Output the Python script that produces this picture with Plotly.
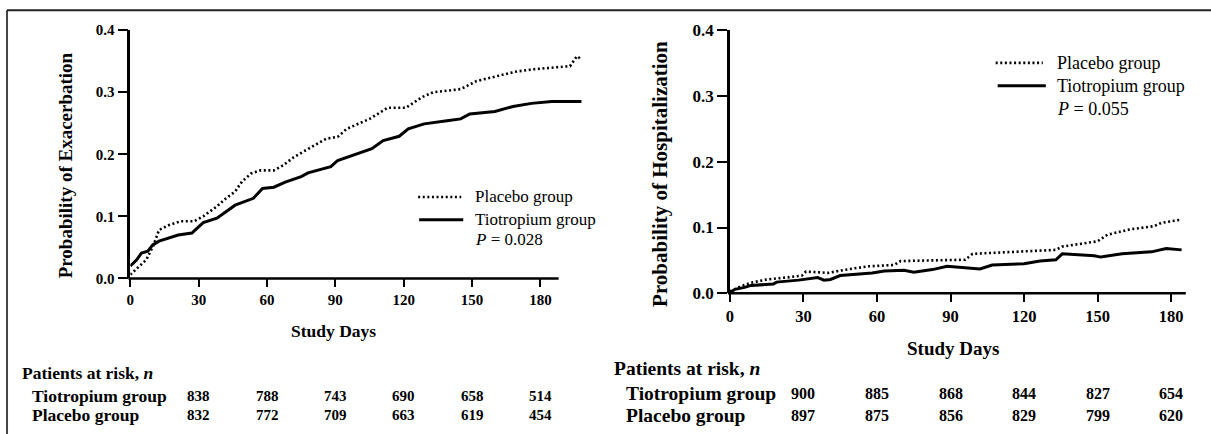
import plotly.graph_objects as go

# Figure size and the measured placement of the figure inside the photographed page
FW, FH = 1211, 434
SX, BX = 0.994, 4.0     # picture x = SX * figure x + BX
SY, BY = 0.963, 7.7     # picture y = SY * figure y + BY
SERIF = "Liberation Serif"

# ---------------- data ----------------
tick_days = [0, 30, 60, 90, 120, 150, 180]
prob_ticks = [0.0, 0.1, 0.2, 0.3, 0.4]

# Left panel: probability of exacerbation
ex_tio_days = [0, 2.8, 4.9, 7.7, 9.8, 12.6, 21, 27, 32, 38, 46, 54, 58, 63, 68, 72, 75,
               78, 88, 91, 97, 106, 111, 118, 122, 129, 139, 145, 149, 160, 168, 176, 185, 198]
ex_tio_prob = [0.020, 0.030, 0.041, 0.044, 0.054, 0.060, 0.070, 0.073, 0.090, 0.097, 0.118,
               0.129, 0.145, 0.147, 0.155, 0.160, 0.164, 0.170, 0.180, 0.190, 0.198, 0.209,
               0.222, 0.229, 0.241, 0.249, 0.254, 0.257, 0.265, 0.269, 0.277, 0.282, 0.285, 0.285]
ex_pla_days = [0, 4, 7, 10, 12.6, 17, 22, 28, 32, 38, 42, 46, 49, 53, 57, 63, 67, 72, 76,
               80, 86, 91, 95, 105, 113, 121, 128, 133, 145, 152, 161, 169, 177, 193, 196, 198]
ex_pla_prob = [0.006, 0.020, 0.030, 0.052, 0.078, 0.086, 0.092, 0.092, 0.100, 0.116, 0.129,
               0.140, 0.156, 0.169, 0.174, 0.174, 0.182, 0.196, 0.204, 0.212, 0.225, 0.228,
               0.241, 0.257, 0.275, 0.275, 0.292, 0.300, 0.305, 0.318, 0.326, 0.333, 0.337,
               0.342, 0.358, 0.353]

# Right panel: probability of hospitalization
ho_tio_days = [0, 2, 6, 8.6, 17.7, 19, 28, 33, 35.8, 38.4, 41, 45, 53, 58, 63, 71, 75, 82.6,
               88.6, 102, 107, 114, 120, 126.5, 133, 135.6, 148.7, 151.3, 160, 172, 178, 184.3]
ho_tio_prob = [0.001, 0.006, 0.009, 0.012, 0.014, 0.017, 0.020, 0.022, 0.024, 0.020, 0.021,
               0.027, 0.029, 0.031, 0.034, 0.035, 0.032, 0.036, 0.041, 0.037, 0.043, 0.044,
               0.045, 0.049, 0.051, 0.060, 0.057, 0.055, 0.060, 0.063, 0.068, 0.066]
ho_pla_days = [0, 4.7, 8.6, 15, 23, 29.4, 31, 36, 40, 49, 56.6, 67, 69.6, 96, 99, 133, 135.6,
               150, 154, 163, 173, 176, 184.3]
ho_pla_prob = [0.003, 0.011, 0.016, 0.021, 0.024, 0.027, 0.033, 0.032, 0.031, 0.037, 0.041,
               0.043, 0.049, 0.051, 0.060, 0.066, 0.071, 0.079, 0.089, 0.097, 0.102, 0.107, 0.112]

# Patients at risk
risk_label_days = [30, 60, 90, 120, 150, 180]
ex_risk_tio = [838, 788, 743, 690, 658, 514]
ex_risk_pla = [832, 772, 709, 663, 619, 454]
ho_risk_tio = [900, 885, 868, 844, 827, 654]
ho_risk_pla = [897, 875, 856, 829, 799, 620]

group_names = ["Placebo group", "Tiotropium group"]
p_values = ["0.028", "0.055"]

# ---------------- layout helpers ----------------
def fx(x):
    """picture x (px) -> paper x"""
    return ((x - BX) / SX) / FW

def fy(y):
    """picture y (px) -> paper y"""
    return 1 - ((y - BY) / SY) / FH

# panel geometry in picture pixels
L_X0, L_PPD, L_XMAX, L_AXEND = 130, 2.272, 200, 188
L_Y0, L_Y1 = 279, 29
R_X0, R_PPD, R_XMAX, R_AXEND = 728, 2.444, 187, 186
R_Y0, R_Y1 = 294, 29

dot = "2px,2.6px"

fig = go.Figure()
fig.add_trace(go.Scatter(x=ex_pla_days, y=ex_pla_prob, mode="lines", xaxis="x", yaxis="y",
                         line=dict(color="black", width=2.6, dash=dot), hoverinfo="skip"))
fig.add_trace(go.Scatter(x=ex_tio_days, y=ex_tio_prob, mode="lines", xaxis="x", yaxis="y",
                         line=dict(color="black", width=3), hoverinfo="skip"))
fig.add_trace(go.Scatter(x=ho_pla_days, y=ho_pla_prob, mode="lines", xaxis="x2", yaxis="y2",
                         line=dict(color="black", width=2.6, dash=dot), hoverinfo="skip"))
fig.add_trace(go.Scatter(x=ho_tio_days, y=ho_tio_prob, mode="lines", xaxis="x2", yaxis="y2",
                         line=dict(color="black", width=3), hoverinfo="skip"))


def xaxis_cfg(x0, ppd, xmax, ysel, fsize):
    return dict(domain=[fx(x0), fx(x0 + xmax * ppd)], range=[0, xmax], anchor=ysel,
                showline=False, showgrid=False, zeroline=False, ticks="outside",
                ticklen=8, tickwidth=2, tickcolor="black", tickvals=tick_days,
                tickfont=dict(family=SERIF, size=fsize, color="black", weight="bold"))


def yaxis_cfg(y0, y1, xsel, fsize):
    return dict(domain=[fy(y0), fy(y1)], range=[0, 0.4], anchor=xsel,
                showline=True, linewidth=2.5, linecolor="black", showgrid=False,
                zeroline=False, ticks="outside", ticklen=10, tickwidth=2,
                tickcolor="black", tickvals=prob_ticks, tickformat=".1f",
                tickfont=dict(family=SERIF, size=fsize, color="black", weight="bold"))


shapes = []
annotations = []


def text(t, x, y, size, bold=True, xanchor="left", xref="paper", angle=0):
    annotations.append(dict(text=t, x=x, y=y, xref=xref, yref="paper", xanchor=xanchor,
                            yanchor="middle", showarrow=False, textangle=angle,
                            font=dict(family=SERIF, size=size, color="black",
                                      weight="bold" if bold else "normal")))


def hline(x0, x1, y, width, dash=None):
    line = dict(color="black", width=width)
    if dash:
        line["dash"] = dash
    shapes.append(dict(type="line", xref="paper", yref="paper", x0=fx(x0), x1=fx(x1),
                       y0=fy(y), y1=fy(y), line=line))


# x axis lines (end short of the curves, as in the reference)
hline(L_X0 - 2, L_X0 + L_AXEND * L_PPD, L_Y0, 2.5)
hline(R_X0 - 2, R_X0 + R_AXEND * R_PPD, R_Y0, 2.5)

# frame (top + left)
top_y = 1 - 1.2 / FH
shapes.append(dict(type="line", xref="paper", yref="paper", x0=fx(7), x1=fx(7), y0=-0.05,
                   y1=top_y, line=dict(color="#444", width=2)))
shapes.append(dict(type="line", xref="paper", yref="paper", x0=fx(7), x1=1.05, y0=top_y,
                   y1=top_y, line=dict(color="#222", width=2)))

# axis titles
text("Probability of Exacerbation", fx(65), fy(165), 19, angle=-90, xanchor="center")
text("Probability of Hospitalization", fx(658), fy(174), 21, angle=-90, xanchor="center")
text("Study Days", fx(333), fy(332), 17.5, xanchor="center")
text("Study Days", fx(950), fy(350), 19, xanchor="center")

# legends
hline(417, 460, 197, 2.6, dot)
hline(418, 462, 220, 3)
text(group_names[0], fx(472), fy(197), 17, bold=False)
text(group_names[1], fx(472), fy(220), 17, bold=False)
text("<i>P</i> = " + p_values[0], fx(472), fy(240), 17, bold=False)

hline(993, 1040, 62, 2.6, dot)
hline(995, 1043, 85, 3)
text(group_names[0], fx(1052), fy(62), 18, bold=False)
text(group_names[1], fx(1052), fy(85), 18, bold=False)
text("<i>P</i> = " + p_values[1], fx(1052), fy(108), 18, bold=False)

# at-risk tables
text("Patients at risk, <i>n</i>", fx(20), fy(374), 17.5)
text(group_names[1], fx(30), fy(397), 17.5)
text(group_names[0], fx(30), fy(417), 17.5)
for d, a, b in zip(risk_label_days, ex_risk_tio, ex_risk_pla):
    text(str(a), d, fy(397), 15, xanchor="center", xref="x")
    text(str(b), d, fy(417), 15, xanchor="center", xref="x")

text("Patients at risk, <i>n</i>", fx(610), fy(370), 19.5)
text(group_names[1], fx(622), fy(395), 19.5)
text(group_names[0], fx(622), fy(417), 19.5)
for d, a, b in zip(risk_label_days, ho_risk_tio, ho_risk_pla):
    text(str(a), d, fy(395), 16, xanchor="center", xref="x2")
    text(str(b), d, fy(417), 16, xanchor="center", xref="x2")

fig.update_layout(
    width=FW, height=FH, margin=dict(l=0, r=0, t=0, b=0),
    paper_bgcolor="white", plot_bgcolor="white", showlegend=False,
    xaxis=xaxis_cfg(L_X0, L_PPD, L_XMAX, "y", 15),
    yaxis=yaxis_cfg(L_Y0, L_Y1, "x", 15),
    xaxis2=xaxis_cfg(R_X0, R_PPD, R_XMAX, "y2", 16.5),
    yaxis2=yaxis_cfg(R_Y0, R_Y1, "x2", 17),
    shapes=shapes, annotations=annotations,
)

fig.write_html("out.html")
